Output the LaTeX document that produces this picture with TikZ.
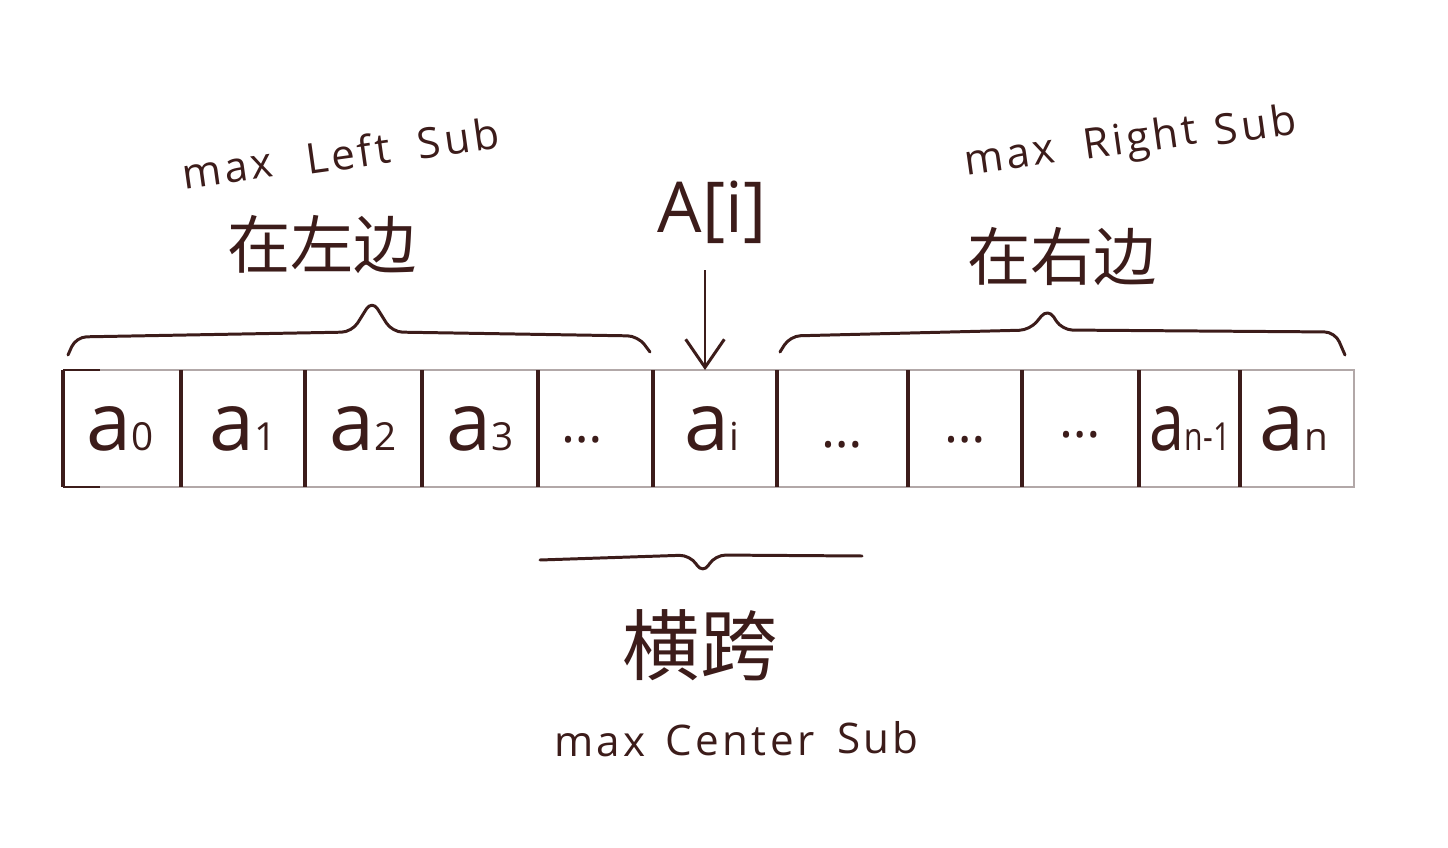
\documentclass[tikz,border=0pt]{standalone}
\usepackage{fontspec}
\setmainfont{Open Sans}
\newfontfamily\cjk{Noto Sans CJK SC}
\newfontfamily\spaced[LetterSpace=8]{Open Sans}
\usetikzlibrary{arrows.meta}
\definecolor{ink}{RGB}{60,28,26}
\definecolor{edgegray}{RGB}{178,168,168}
\newcommand\elem[1]{a{\fontsize{22}{22}\selectfont #1}}
\begin{document}
\begin{tikzpicture}[x=0.02cm,y=-0.02cm,
  cellbox/.style={inner sep=0pt, text=ink, font=\fontsize{46}{46}\selectfont},
  dotsbox/.style={inner sep=0pt, text=ink, font=\fontsize{30}{30}\selectfont},
  sep/.style={draw=ink, line width=2.3pt},
  rim/.style={draw=edgegray, line width=1.4pt},
  bracepath/.style={draw=ink, line width=1.7pt, line cap=round, line join=round, rounded corners=6pt},
  latin/.style={text=ink, inner sep=1pt, font=\spaced\fontsize{24}{24}\selectfont},
  chinese/.style={text=ink, font=\cjk\fontsize{36}{36}\selectfont},
  pointer/.style={draw=ink, line width=1.7pt, -{Straight Barb[length=16pt,width=22pt,line width=1.7pt]}}
]
\useasboundingbox (0,0) rectangle (1448,848);
\fill[white] (0,0) rectangle (1448,848);

% outer rim
\draw[rim] (63,370) -- (1354,370) -- (1354,487) -- (63,487);
\draw[sep] (63,370) -- (63,487);
\draw[sep,line width=1.6pt] (63,370) -- (100,370);
\draw[sep,line width=1.6pt] (63,487) -- (100,487);

% separators
\foreach \x in {181,305,422,538,653,777,908,1022,1139,1240}
  \draw[sep] (\x,370) -- (\x,487);

% cells
\node[cellbox] (c0) at (120,428.5) {\elem{0}};
\node[cellbox] (c1) at (243,428.5) {\elem{1}};
\node[cellbox] (c2) at (363,428.5) {\elem{2}};
\node[cellbox] (c3) at (480,428.5) {\elem{3}};
\node[dotsbox] (c4) at (582,440) {\ldots};
\node[cellbox] (c5) at (712,428.5) {\elem{i}};
\node[dotsbox] (c6) at (842,445) {\ldots};
\node[dotsbox] (c7) at (965,440) {\ldots};
\node[dotsbox] (c8) at (1080,435) {\ldots};
\node[cellbox] (c9) at (1190,428.5) {\scalebox{0.78}[1]{\elem{n-1}}};
\node[cellbox] (c10) at (1294,428.5) {\elem{n}};
\coordinate (c5top) at (712,370);

% left brace
\draw[bracepath] (68,355) -- (76,337) -- (352,332) -- (372,300) -- (392,332) -- (638,336) -- (650,352);
% right brace
\draw[bracepath] (780,352) -- (790,336) -- (1030,330) -- (1048,308) -- (1062,330) -- (1335,332) -- (1345,355);
% bottom brace
\draw[bracepath] (540,560) -- (690,555) -- (703,574) -- (715,555) -- (862,556);

% labels
\node[latin, rotate=8] (lsub1) at (228,172) {max};
\node[latin, rotate=8] (lsub2) at (348,153) {Left};
\node[latin, rotate=8] (lsub3) at (458,138) {Sub};
\node[chinese] (lcn) at (322,245) {在左边};
\node[latin, rotate=8] (rsub1) at (1010,158) {max};
\node[latin, rotate=8] (rsub2) at (1140,141) {Right};
\node[latin, rotate=8] (rsub3) at (1255,124) {Sub};
\node[chinese] (rcn) at (1062,257) {在右边};
\node[text=ink, font=\fontsize{40}{40}\selectfont] (Ai) at (712,212) {A[i]};
\node[chinese, font=\cjk\fontsize{44}{44}\selectfont] (ccn) at (700,645) {横跨};
\node[latin] (csub1) at (600,745) {max};
\node[latin] (csub2) at (740,740) {Center};
\node[latin] (csub3) at (878,738) {Sub};

% arrow
\coordinate (arrowstart) at (705,270);
\draw[pointer] (arrowstart) -- (arrowstart |- c5top);
\end{tikzpicture}
\end{document}
